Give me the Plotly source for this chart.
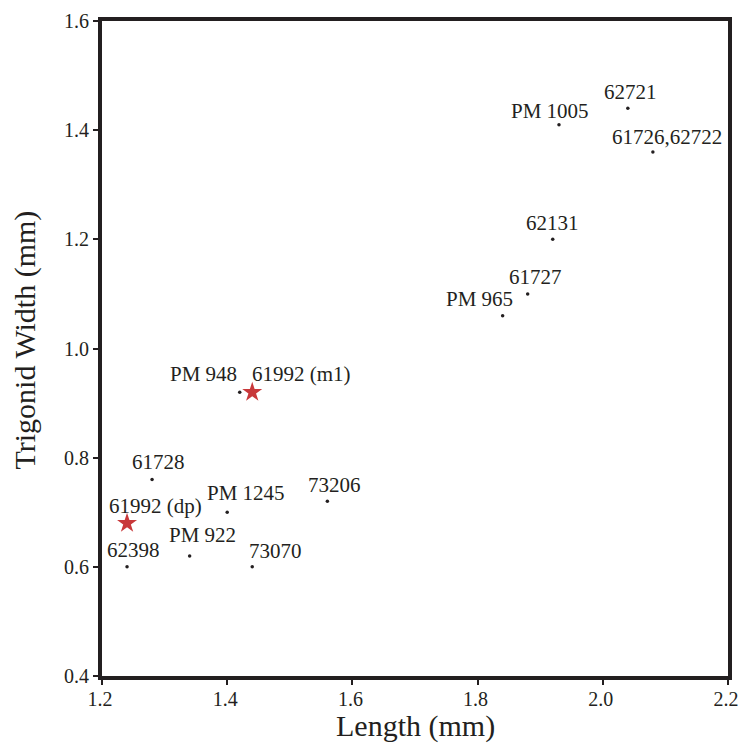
import plotly.graph_objects as go

# Data
labels = ["PM 1005", "62721", "61726,62722", "62131", "61727", "PM 965",
          "PM 948", "61728", "PM 1245", "73206", "62398", "PM 922", "73070"]
length_mm = [1.93, 2.04, 2.08, 1.92, 1.88, 1.84, 1.42, 1.28, 1.40, 1.56, 1.24, 1.34, 1.44]
width_mm = [1.41, 1.44, 1.36, 1.20, 1.10, 1.06, 0.92, 0.76, 0.70, 0.72, 0.60, 0.62, 0.60]

star_labels = ["61992 (m1)", "61992 (dp)"]
star_length = [1.44, 1.24]
star_width = [0.92, 0.68]

x_ticks = [1.2, 1.4, 1.6, 1.8, 2.0, 2.2]
y_ticks = [0.4, 0.6, 0.8, 1.0, 1.2, 1.4, 1.6]

x_title = "Length (mm)"
y_title = "Trigonid Width (mm)"

# label offsets in pixels (layout only)
offsets = {
    "PM 1005": (-9, 14), "62721": (3, 16), "61726,62722": (14, 15),
    "62131": (0, 16), "61727": (8, 17), "PM 965": (-23, 17),
    "PM 948": (-36, 18), "61728": (6, 18), "PM 1245": (19, 19),
    "73206": (7, 16), "62398": (6, 17), "PM 922": (13, 21),
    "73070": (23, 16), "61992 (m1)": (49, 18), "61992 (dp)": (28, 17),
}

INK = "#231f20"
FONT = "Liberation Serif, Times New Roman, serif"

fig = go.Figure()
fig.add_trace(go.Scatter(x=length_mm, y=width_mm, mode="markers",
                         marker=dict(color=INK, size=3.5), hoverinfo="skip",
                         showlegend=False))
fig.add_trace(go.Scatter(x=star_length, y=star_width, mode="markers",
                         marker=dict(color="#c8383a", size=15, symbol="star",
                                     line=dict(width=0)),
                         hoverinfo="skip", showlegend=False))

annotations = []
for lab, x, y in list(zip(labels, length_mm, width_mm)) + list(zip(star_labels, star_length, star_width)):
    dx, dy = offsets[lab]
    annotations.append(dict(x=x, y=y, xref="x", yref="y", text=lab, showarrow=False,
                            xshift=dx, yshift=dy,
                            font=dict(family=FONT, size=21, color=INK)))

# axis titles as paper annotations
annotations.append(dict(x=0.5, y=0, xref="paper", yref="paper", text=x_title,
                        showarrow=False, xanchor="center", yanchor="middle",
                        yshift=-50, font=dict(family=FONT, size=30, color=INK)))
annotations.append(dict(x=0, y=0.5, xref="paper", yref="paper", text=y_title,
                        showarrow=False, xanchor="center", yanchor="middle",
                        textangle=-90, xshift=-78, yshift=8,
                        font=dict(family=FONT, size=30, color=INK)))

axis_common = dict(showline=True, linewidth=4, linecolor=INK, mirror=True,
                   ticks="outside", ticklen=5, tickwidth=1.5, tickcolor=INK,
                   showgrid=False, zeroline=False, automargin=False,
                   ticklabeloverflow="allow",
                   tickfont=dict(family=FONT, size=20, color=INK))

fig.update_layout(
    width=738, height=750,
    margin=dict(l=102, r=10, t=21, b=74),
    paper_bgcolor="white", plot_bgcolor="white",
    annotations=annotations,
    xaxis=dict(range=[1.2, 2.2], tickvals=x_ticks, tickformat=".1f",
               ticklabelstandoff=-3, ticklabelshift=-2, **axis_common),
    yaxis=dict(range=[0.4, 1.6], tickvals=y_ticks, tickformat=".1f", **axis_common),
)

fig.write_html("out.html", config={"displayModeBar": False},
               post_script="document.body.style.margin='0';document.body.style.overflow='hidden';")
